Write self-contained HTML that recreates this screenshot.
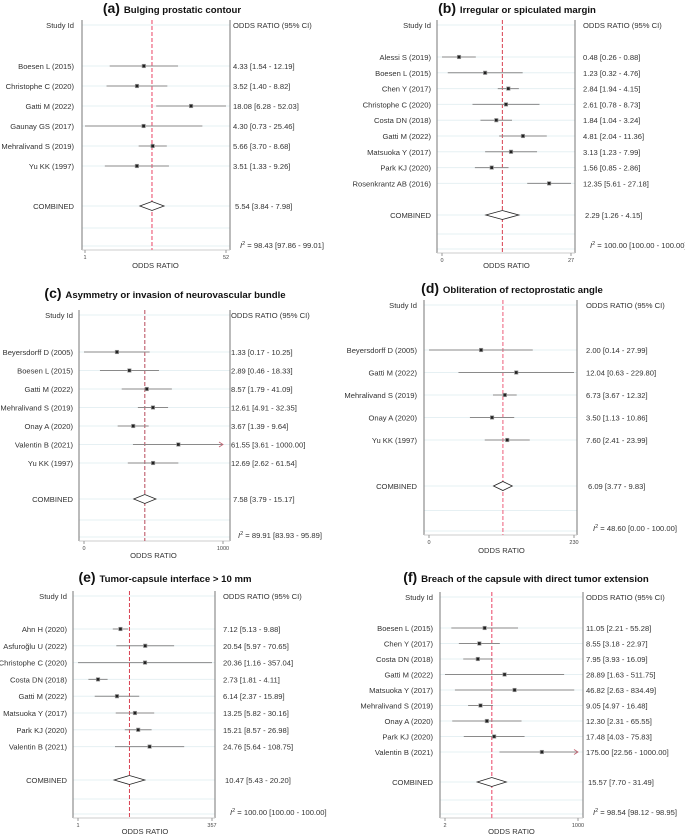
<!DOCTYPE html>
<html><head><meta charset="utf-8"><style>
html,body{margin:0;padding:0;background:#fff;}
svg{display:block;font-family:"Liberation Sans",sans-serif;}
</style></head><body>
<svg id="fig" width="685" height="835" viewBox="0 0 685 835" xmlns="http://www.w3.org/2000/svg"></svg>
<script>
// ---- Panel (a) data ----
const studiesA = ["Boesen L (2015)","Christophe C (2020)","Gatti M (2022)","Gaunay GS (2017)","Mehralivand S (2019)","Yu KK (1997)"];
const orA = [4.33,3.52,18.08,4.30,5.66,3.51];
const loA = [1.54,1.40,6.28,0.73,3.70,1.33];
const hiA = [12.19,8.82,52.03,25.46,8.68,9.26];
const combA = [5.54,3.84,7.98];
const i2A = [98.43,97.86,99.01];
const ticksA = ["1","52"];
// ---- Panel (b) data ----
const studiesB = ["Alessi S (2019)","Boesen L (2015)","Chen Y (2017)","Christophe C (2020)","Costa DN (2018)","Gatti M (2022)","Matsuoka Y (2017)","Park KJ (2020)","Rosenkrantz AB (2016)"];
const orB = [0.48,1.23,2.84,2.61,1.84,4.81,3.13,1.56,12.35];
const loB = [0.26,0.32,1.94,0.78,1.04,2.04,1.23,0.85,5.61];
const hiB = [0.88,4.76,4.15,8.73,3.24,11.36,7.99,2.86,27.18];
const combB = [2.29,1.26,4.15];
const i2B = [100.00,100.00,100.00];
const ticksB = ["0","27"];
// ---- Panel (c) data ----
const studiesC = ["Beyersdorff D (2005)","Boesen L (2015)","Gatti M (2022)","Mehralivand S (2019)","Onay A (2020)","Valentin B (2021)","Yu KK (1997)"];
const orC = [1.33,2.89,8.57,12.61,3.67,61.55,12.69];
const loC = [0.17,0.46,1.79,4.91,1.39,3.61,2.62];
const hiC = [10.25,18.33,41.09,32.35,9.64,1000.00,61.54];
const combC = [7.58,3.79,15.17];
const i2C = [89.91,83.93,95.89];
const ticksC = ["0","1000"];
// ---- Panel (d) data ----
const studiesD = ["Beyersdorff D (2005)","Gatti M (2022)","Mehralivand S (2019)","Onay A (2020)","Yu KK (1997)"];
const orD = [2.00,12.04,6.73,3.50,7.60];
const loD = [0.14,0.63,3.67,1.13,2.41];
const hiD = [27.99,229.80,12.32,10.86,23.99];
const combD = [6.09,3.77,9.83];
const i2D = [48.60,0.00,100.00];
const ticksD = ["0","230"];
// ---- Panel (e) data ----
const studiesE = ["Ahn H (2020)","Asfuroğlu U (2022)","Christophe C (2020)","Costa DN (2018)","Gatti M (2022)","Matsuoka Y (2017)","Park KJ (2020)","Valentin B (2021)"];
const orE = [7.12,20.54,20.36,2.73,6.14,13.25,15.21,24.76];
const loE = [5.13,5.97,1.16,1.81,2.37,5.82,8.57,5.64];
const hiE = [9.88,70.65,357.04,4.11,15.89,30.16,26.98,108.75];
const combE = [10.47,5.43,20.20];
const i2E = [100.00,100.00,100.00];
const ticksE = ["1","357"];
// ---- Panel (f) data ----
const studiesF = ["Boesen L (2015)","Chen Y (2017)","Costa DN (2018)","Gatti M (2022)","Matsuoka Y (2017)","Mehralivand S (2019)","Onay A (2020)","Park KJ (2020)","Valentin B (2021)"];
const orF = [11.05,8.55,7.95,28.89,46.82,9.05,12.30,17.48,175.00];
const loF = [2.21,3.18,3.93,1.63,2.63,4.97,2.31,4.03,22.56];
const hiF = [55.28,22.97,16.09,511.75,834.49,16.48,65.55,75.83,1000.00];
const combF = [15.57,7.70,31.49];
const i2F = [98.54,98.12,98.95];
const ticksF = ["2","1000"];

const NS="http://www.w3.org/2000/svg";
const svg=document.getElementById('fig');
const FS='7.6';
function mk(tag,attrs,parent,txt){const e=document.createElementNS(NS,tag);for(const k in attrs)e.setAttribute(k,attrs[k]);if(txt!==undefined)e.textContent=txt;(parent||svg).appendChild(e);return e;}
const f2=v=>v.toFixed(2);

function panel(id,letter,title,studies,or,lo,hi,comb,i2,ticks,L){
  const g=mk('g',{});
  
  
  const dmin=Math.log(Math.min(...lo)), dmax=Math.log(Math.max(...hi));
  const xs=v=>L.p0+(Math.log(v)-dmin)/(dmax-dmin)*(L.p1-L.p0);
  const rowY=i=>L.r0+i*L.rs;
  const t=mk('text',{x:L.tx,y:L.ty,'text-anchor':'middle','font-weight':'bold','font-size':'9.6',fill:'#111'},g);
  
  
  mk('tspan',{'font-size':'14'},t,'('+letter+') ');
  mk('tspan',{},t,title);
  const h1=mk('text',{x:L.lx,y:L.hy,'text-anchor':'end','font-size':FS,fill:'#333'},g,'Study Id');
  
  
  const h2=mk('text',{x:L.vx,y:L.hy,'font-size':FS,fill:'#333'},g,'ODDS RATIO (95% CI)');
  
  
  const gl=[L.hy-3]; studies.forEach((s,i)=>gl.push(rowY(i))); gl.push(L.cy); gl.push(L.cy+(L.ay-L.cy)*0.5); gl.push(L.ay-4);
  gl.forEach(y=>{const l=mk('line',{x1:L.x0,x2:L.x1,y1:y,y2:y,stroke:'#e6f0f3','stroke-width':'1'},g);
    
    });
  const lv=mk('line',{x1:L.x0,x2:L.x0,y1:L.top,y2:L.ay,stroke:'#777','stroke-width':'1'},g);
  
  
  const rv=mk('line',{x1:L.x1,x2:L.x1,y1:L.top,y2:L.ay,stroke:'#777','stroke-width':'1'},g);
  
  
  const ax=mk('line',{x1:L.x0,x2:L.x1,y1:L.ay,y2:L.ay,stroke:'#ccc','stroke-width':'1'},g);
  
  
  [L.p0,L.p1].forEach((x,i)=>{
    const tk=mk('line',{x1:x,x2:x,y1:L.ay,y2:L.ay+3,stroke:'#999'},g);
    
    
    const tl=mk('text',{x:x,y:L.ay+9,'text-anchor':'middle','font-size':'5.5',fill:'#444'},g,ticks[i]);
    
    
  });
  const at=mk('text',{x:(L.p0+L.p1)/2,y:L.oy,'text-anchor':'middle','font-size':FS,fill:'#333'},g,'ODDS RATIO');
  
  
  const rl=mk('line',{x1:xs(comb[0]),x2:xs(comb[0]),y1:L.top,y2:L.ay,stroke:L.rc,'stroke-width':L.rw,'stroke-dasharray':'4,2'},g);
  
  
  studies.forEach((s,i)=>{
    const y=rowY(i);
    const lb=mk('text',{x:L.lx,y:y+3,'text-anchor':'end','font-size':FS,fill:'#333'},g,s);
    
    
    const ci=mk('line',{x1:xs(lo[i]),x2:xs(hi[i]),y1:y,y2:y,stroke:'#8a8a8a','stroke-width':'1'},g);
    
    
    if(hi[i]>=1000){
      const ar=mk('path',{d:`M${xs(hi[i])-4},${y-2.5} L${xs(hi[i])},${y} L${xs(hi[i])-4},${y+2.5}`,fill:'none',stroke:'#c06070','stroke-width':'0.8'},g);
      
      
    }
    const sq=mk('rect',{x:xs(or[i])-1.7,y:y-1.7,width:3.4,height:3.4,fill:'#222',stroke:'#999','stroke-width':'0.7'},g);
    
    
    const vt=mk('text',{x:L.vx,y:y+3,'font-size':FS,fill:'#333'},g,`${f2(or[i])} [${f2(lo[i])} - ${f2(hi[i])}]`);
    
    
  });
  const cl=mk('text',{x:L.lx,y:L.cy+3,'text-anchor':'end','font-size':FS,fill:'#333'},g,'COMBINED');
  
  
  const dm=mk('path',{d:`M${xs(comb[1])},${L.cy} L${xs(comb[0])},${L.cy-4.5} L${xs(comb[2])},${L.cy} L${xs(comb[0])},${L.cy+4.5} Z`,fill:'#fff',stroke:'#222','stroke-width':'0.8'},g);
  
  
  const cv=mk('text',{x:L.vx+2,y:L.cy+3,'font-size':FS,fill:'#333'},g,`${f2(comb[0])} [${f2(comb[1])} - ${f2(comb[2])}]`);
  
  
  const it=mk('text',{x:L.vx+7,y:L.iy+3,'font-size':FS,fill:'#333'},g);
  
  
  mk('tspan',{'font-style':'italic'},it,'I');
  mk('tspan',{'font-size':'5.5',dy:'-3'},it,'2');
  mk('tspan',{dy:'3'},it,` = ${f2(i2[0])} [${f2(i2[1])} - ${f2(i2[2])}]`);
}

const pink='#f07890', dark='#b84a5a';
panel('a','a','Bulging prostatic contour',studiesA,orA,loA,hiA,combA,i2A,ticksA,
 {x0:82,x1:230,p0:85,p1:226,lx:74,vx:233,tx:172,ty:13,hy:28,top:20,r0:66,rs:20,cy:206,iy:245,ay:250,oy:268,rc:pink,rw:1.4});
panel('b','b','Irregular or spiculated margin',studiesB,orB,loB,hiB,combB,i2B,ticksB,
 {x0:437,x1:575,p0:442,p1:571,lx:431,vx:583,tx:517,ty:13,hy:28,top:20,r0:57,rs:15.8,cy:215,iy:245,ay:253,oy:268,rc:'#d84050',rw:1});
panel('c','c','Asymmetry or invasion of neurovascular bundle',studiesC,orC,loC,hiC,combC,i2C,ticksC,
 {x0:79,x1:230,p0:84,p1:223,lx:73,vx:231,tx:165,ty:298,hy:318,top:310,r0:352,rs:18.5,cy:499,iy:535,ay:541,oy:558,rc:dark,rw:1});
panel('d','d','Obliteration of rectoprostatic angle',studiesD,orD,loD,hiD,combD,i2D,ticksD,
 {x0:424,x1:577,p0:429,p1:574,lx:417,vx:586,tx:512,ty:293,hy:308,top:300,r0:350,rs:22.5,cy:486,iy:528,ay:535,oy:553,rc:pink,rw:1.2});
panel('e','e','Tumor-capsule interface > 10 mm',studiesE,orE,loE,hiE,combE,i2E,ticksE,
 {x0:73,x1:215,p0:78,p1:212,lx:67,vx:223,tx:165,ty:582,hy:599,top:591,r0:629,rs:16.8,cy:780,iy:812,ay:818,oy:834,rc:'#d84050',rw:1});
panel('f','f','Breach of the capsule with direct tumor extension',studiesF,orF,loF,hiF,combF,i2F,ticksF,
 {x0:440,x1:583,p0:445,p1:578,lx:433,vx:586,tx:526,ty:582,hy:600,top:592,r0:628,rs:15.5,cy:782,iy:812,ay:818,oy:834,rc:pink,rw:1.4});
</script>
</body></html>
